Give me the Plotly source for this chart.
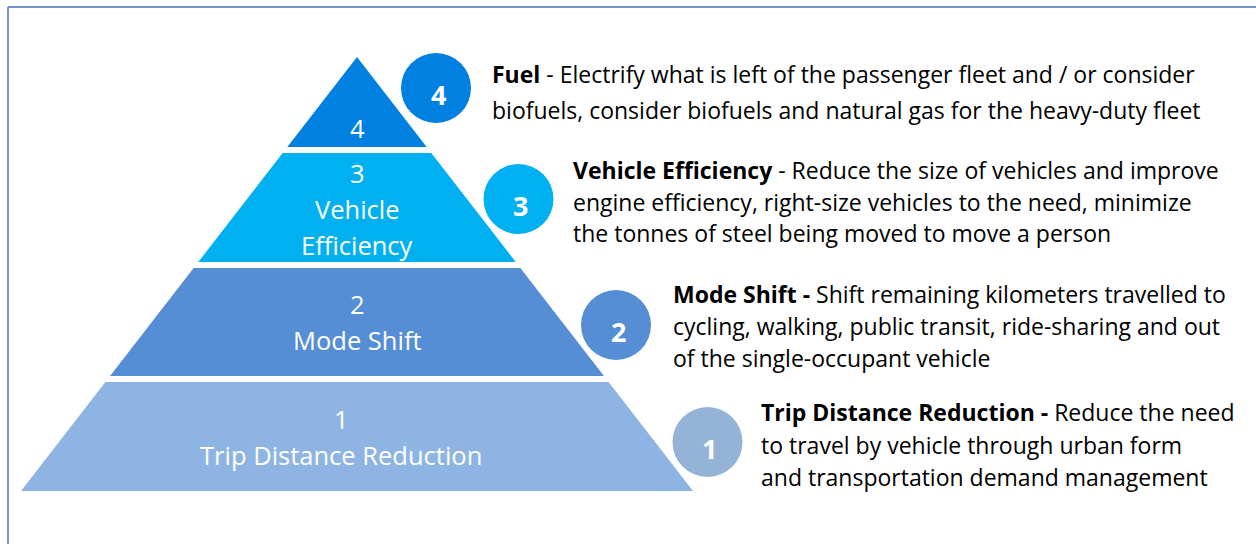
import plotly.graph_objects as go

# ---------------- data ----------------
levels = [1, 2, 3, 4]
tier_label_lines = [
    ["1", "Trip Distance Reduction"],
    ["2", "Mode Shift"],
    ["3", "Vehicle", "Efficiency"],
    ["4"],
]
titles = ["Trip Distance Reduction -", "Mode Shift -", "Vehicle Efficiency", "Fuel"]
title_suffix = ["", "", " -", " -"]
desc_lines = [
    [" Reduce the need", "to travel by vehicle through urban form", "and transportation demand management"],
    [" Shift remaining kilometers travelled to", "cycling, walking, public transit, ride-sharing and out", "of the single-occupant vehicle"],
    [" Reduce the size of vehicles and improve", "engine efficiency, right-size vehicles to the need, minimize", "the tonnes of steel being moved to move a person"],
    [" Electrify what is left of the passenger fleet and / or consider", "biofuels, consider biofuels and natural gas for the heavy-duty fleet"],
]

# ---------------- style / layout ----------------
W, H = 1256, 544
tier_colors = ["#8EB4E3", "#558ED5", "#00B0F0", "#0080E0"]
circle_colors = ["#95B3D7", "#558ED5", "#00B0F0", "#0080E0"]
apex_x, apex_y = 357, 57
base_y, base_half = 491, 336
tier_bounds = [(382, 491), (268, 376), (153, 262), (57, 147)]
label_x = [341, 357, 357, 357]
label_y0 = [419, 304, 173, 128]
label_dy = 36
circle_xy = [(707.5, 442), (616, 325), (518.5, 199), (436, 88)]
desc_x = [759, 671, 571, 490]
desc_y0 = [412, 294, 170, 74]
desc_dy = [32.5, 32, 31.5, 36]

FONT = "Open Sans"
desc_size = 23
label_size = 25.5


def half_width(y):
    return base_half * (y - apex_y) / (base_y - apex_y)


fig = go.Figure()
annotations = []

for i, lvl in enumerate(levels):
    y_top, y_bot = tier_bounds[i]
    ht, hb = half_width(y_top), half_width(y_bot)
    xs = [apex_x - ht, apex_x + ht, apex_x + hb, apex_x - hb, apex_x - ht]
    ys = [y_top, y_top, y_bot, y_bot, y_top]
    fig.add_trace(go.Scatter(x=xs, y=ys, mode="lines", fill="toself",
                             fillcolor=tier_colors[i], line=dict(width=0),
                             hoverinfo="skip", showlegend=False))
    for j, txt in enumerate(tier_label_lines[i]):
        annotations.append(dict(x=label_x[i], y=label_y0[i] + j * label_dy, text=txt,
                                showarrow=False, xanchor="center", yanchor="middle",
                                font=dict(family=FONT, size=label_size, color="white")))

cx = [c[0] for c in circle_xy]
cy = [c[1] for c in circle_xy]
fig.add_trace(go.Scatter(x=cx, y=cy, mode="markers",
                         marker=dict(size=70, color=circle_colors, line=dict(width=0)),
                         hoverinfo="skip", showlegend=False))
for i, lvl in enumerate(levels):
    annotations.append(dict(x=cx[i] + 2, y=cy[i] + 6, text=f"<b>{lvl}</b>", showarrow=False,
                            xanchor="center", yanchor="middle",
                            font=dict(family=FONT, size=27, color="white")))

for i, lvl in enumerate(levels):
    for j, line in enumerate(desc_lines[i]):
        if j == 0:
            txt = f"<b>{titles[i]}</b>{title_suffix[i]}{line}"
        else:
            txt = line
        annotations.append(dict(x=desc_x[i], y=desc_y0[i] + j * desc_dy[i], text=txt,
                                showarrow=False, xanchor="left", yanchor="middle",
                                font=dict(family=FONT, size=desc_size, color="#000000")))

# border: only top and left edges are visible in the picture
shapes = [
    dict(type="line", xref="paper", yref="paper", x0=8 / W, y0=1 - 7 / H, x1=1, y1=1 - 7 / H,
         line=dict(color="#7394CB", width=2)),
    dict(type="line", xref="paper", yref="paper", x0=8 / W, y0=1 - 7 / H, x1=8 / W, y1=0,
         line=dict(color="#7394CB", width=2)),
    dict(type="rect", xref="paper", yref="paper", x0=1 - 20 / W, x1=1, y0=0, y1=1 - 10 / H,
         fillcolor="white", line=dict(width=0), layer="above"),
]

fig.update_layout(
    width=W, height=H,
    margin=dict(l=0, r=0, t=0, b=0),
    paper_bgcolor="white", plot_bgcolor="white",
    xaxis=dict(range=[0, W], visible=False, fixedrange=True),
    yaxis=dict(range=[H, 0], visible=False, fixedrange=True),
    annotations=annotations, shapes=shapes,
)

fig.write_html("out.html", config={"displayModeBar": False},
               post_script="document.documentElement.style.overflow='hidden';document.body.style.margin='0';document.body.style.overflow='hidden';")
